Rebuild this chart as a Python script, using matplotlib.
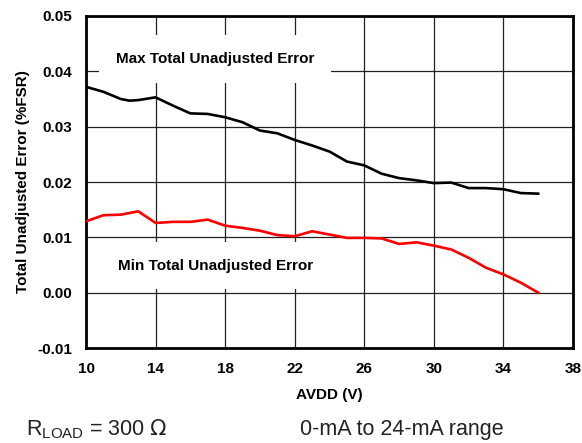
import numpy as np
import matplotlib
matplotlib.use('Agg')
import matplotlib.pyplot as plt

# AVDD sweep (V)
avdd = [10, 11, 12, 12.5, 13, 14, 15, 16, 17, 18, 19, 20, 21, 22, 23, 24, 25,
        26, 27, 28, 29, 30, 31, 32, 33, 34, 35, 36]
# max TUE (%FSR)
tue_max = [0.0372, 0.0363, 0.0350, 0.0347, 0.0348, 0.0353, 0.0338, 0.0324, 0.0323,
           0.0317, 0.0308, 0.0293, 0.0288, 0.0276, 0.0266, 0.0255, 0.0237,
           0.0230, 0.0215, 0.0207, 0.0203, 0.0198, 0.0199, 0.0189, 0.0189,
           0.0187, 0.0180, 0.0179]

avdd_min = [10, 11, 12, 13, 14, 15, 16, 17, 18, 19, 20, 21, 22, 23, 24, 25,
            26, 27, 28, 29, 30, 31, 32, 33, 34, 35, 36]
# min TUE (%FSR)
tue_min = [0.0129, 0.0140, 0.0141, 0.0147, 0.0126, 0.0128, 0.0128, 0.0132,
           0.0121, 0.0117, 0.0112, 0.0104, 0.0102, 0.0111, 0.0105, 0.0099,
           0.0099, 0.0098, 0.0088, 0.0091, 0.0085, 0.0078, 0.0063, 0.0045,
           0.0033, 0.0018, 0.0000]

xticks = [10, 14, 18, 22, 26, 30, 34, 38]
yticks = [-0.01, 0.00, 0.01, 0.02, 0.03, 0.04, 0.05]

plt.rcParams['font.family'] = ['Liberation Sans', 'DejaVu Sans']

fig = plt.figure(figsize=(5.82, 4.43), dpi=100)
ax = fig.add_axes([0.1478, 0.2144, 0.8367, 0.7495])

ax.plot(avdd, tue_max, color='black', lw=1.9, zorder=3)
ax.plot(avdd_min, tue_min, color='red', lw=1.9, zorder=3)

ax.set_xlim(10, 38)
ax.set_ylim(-0.01, 0.05)
ax.set_xticks(xticks)
ax.set_xticklabels([str(t) for t in xticks], fontweight='bold', fontsize=11)
ax.set_yticks(yticks)
ax.set_yticklabels(['%.2f' % t for t in yticks], fontweight='bold', fontsize=11)
ax.tick_params(axis='y', length=0, pad=10)
ax.tick_params(axis='x', length=0, pad=10)
ax.grid(True, color='#222222', lw=0.9, zorder=1)
ax.set_axisbelow(True)
for s in ax.spines.values():
    s.set_linewidth(2)
    s.set_color('black')

ax.set_xlabel('AVDD (V)', fontweight='bold', fontsize=11, labelpad=9)
ax.set_ylabel('Total Unadjusted Error (%FSR)', fontweight='bold', fontsize=11, labelpad=5)

box = dict(boxstyle='square,pad=1.1', facecolor='white', edgecolor='none')
ax.text(17.4, 0.0422, 'Max Total Unadjusted Error', ha='center', va='center',
        fontweight='bold', fontsize=11, bbox=box, zorder=2)
ax.text(17.45, 0.0049, 'Min Total Unadjusted Error', ha='center', va='center',
        fontweight='bold', fontsize=11, bbox=box, zorder=2)

fig.text(0.045, 0.018, r'R$_{\mathregular{LOAD}}$ = 300 $\Omega$', fontsize=15.5, color='#222222')
fig.text(0.516, 0.018, '0-mA to 24-mA range', fontsize=15.5, color='#222222')

fig.savefig('out.png', dpi=100)
